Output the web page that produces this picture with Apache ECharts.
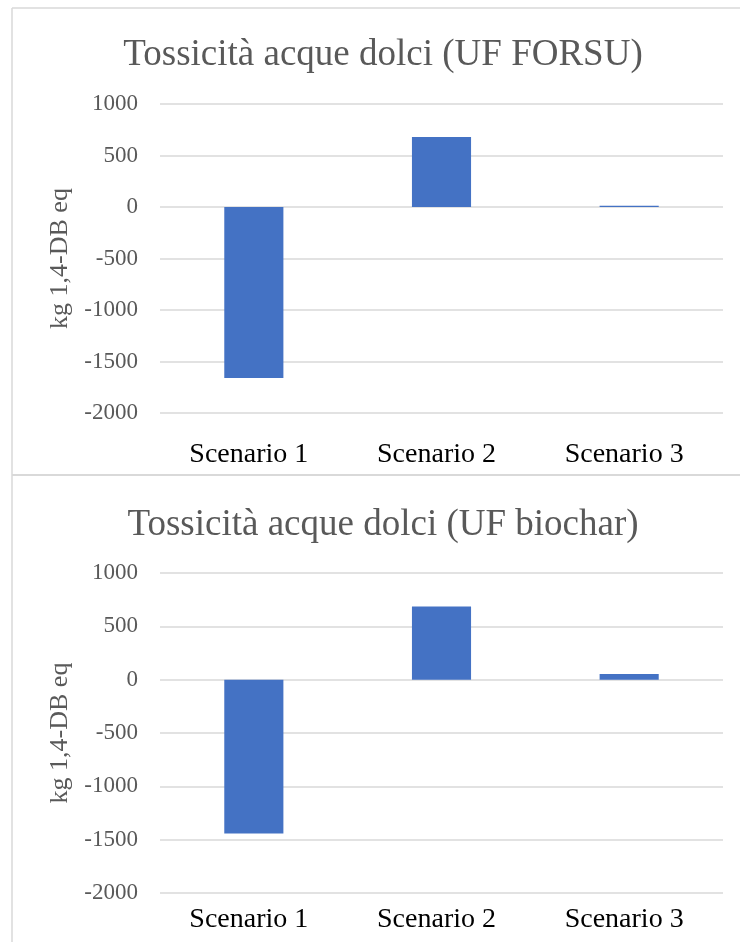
<!DOCTYPE html>
<html>
<head>
<meta charset="utf-8">
<script src="https://cdn.jsdelivr.net/npm/echarts@6/dist/echarts.min.js"></script>
<style>html,body{margin:0;padding:0;background:#fff;}#c{width:740px;height:942px;}</style>
</head>
<body>
<div id="c"></div>
<script>
const categories = ['Scenario 1', 'Scenario 2', 'Scenario 3'];
const forsuValues = [-1660, 680, 12];
const biocharValues = [-1443, 685, 53];
const titles = ['Tossicità acque dolci (UF FORSU)', 'Tossicità acque dolci (UF biochar)'];
const yName = 'kg 1,4-DB eq';
const yMin = -2000, yMax = 1000, yInterval = 500;

const FONT = '"Liberation Serif", "Times New Roman", serif';
const GREY = '#595959';
const LINE = '#d9d9d9';

const chart = echarts.init(document.getElementById('c'), null, {renderer: 'canvas'});

function yAxis(idx) {
  return {
    type: 'value', gridIndex: idx, min: yMin, max: yMax, interval: yInterval,
    name: yName, nameLocation: 'middle', nameRotate: 90, nameGap: 77,
    nameTextStyle: {fontFamily: FONT, fontSize: 26, color: GREY},
    axisLine: {show: false}, axisTick: {show: false},
    axisLabel: {fontFamily: FONT, fontSize: 23, color: GREY, margin: 22,
      formatter: v => String(v)},
    splitLine: {lineStyle: {color: LINE, width: 1.5}}
  };
}
function xAxis(idx, margin) {
  return {
    type: 'category', gridIndex: idx, data: categories, position: 'bottom',
    axisLine: {show: false}, axisTick: {show: false},
    axisLabel: {fontFamily: FONT, fontSize: 28, color: '#000', margin: margin,
      padding: [0, 10, 0, 0]}
  };
}

chart.setOption({
  animation: false,
  backgroundColor: '#fff',
  title: [
    {text: titles[0], left: 378, top: 32, textAlign: 'center',
     textStyle: {fontFamily: FONT, fontSize: 37, fontWeight: 'normal', color: GREY}},
    {text: titles[1], left: 378, top: 502, textAlign: 'center',
     textStyle: {fontFamily: FONT, fontSize: 37, fontWeight: 'normal', color: GREY}}
  ],
  grid: [
    {left: 160, right: 17, top: 104, height: 309},
    {left: 160, right: 17, top: 573, height: 320}
  ],
  xAxis: [xAxis(0, 28), xAxis(1, 13)],
  yAxis: [yAxis(0), yAxis(1)],
  series: [
    {type: 'bar', xAxisIndex: 0, yAxisIndex: 0, data: forsuValues, barWidth: '31.5%',
     itemStyle: {color: '#4472C4'}},
    {type: 'bar', xAxisIndex: 1, yAxisIndex: 1, data: biocharValues, barWidth: '31.5%',
     itemStyle: {color: '#4472C4'}}
  ],
  graphic: [
    {type: 'line', shape: {x1: 12, y1: 8, x2: 740, y2: 8}, style: {stroke: LINE, lineWidth: 1.5}},
    {type: 'line', shape: {x1: 12, y1: 8, x2: 12, y2: 942}, style: {stroke: LINE, lineWidth: 1.5}},
    {type: 'line', shape: {x1: 12, y1: 475, x2: 740, y2: 475}, style: {stroke: LINE, lineWidth: 2}}
  ]
});
</script>
</body>
</html>
